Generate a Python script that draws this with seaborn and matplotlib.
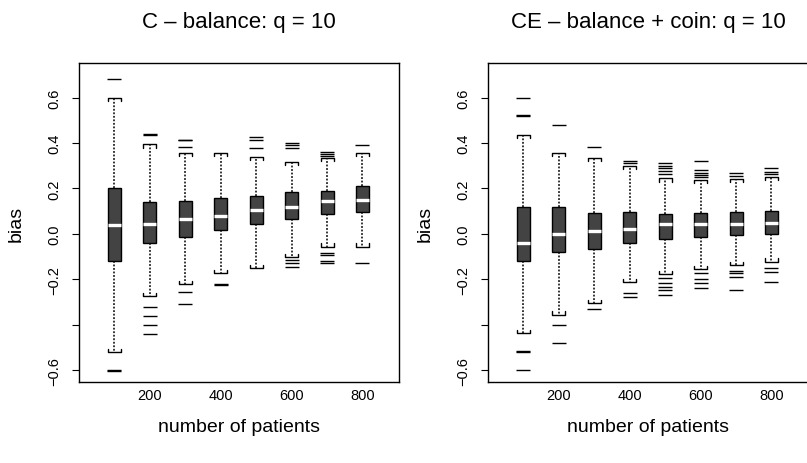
import matplotlib
matplotlib.use("Agg")
import matplotlib.pyplot as plt
import matplotlib.colors as mcolors
import pandas as pd
import seaborn as sns

patients = [100, 200, 300, 400, 500, 600, 700, 800]

# C – balance: q = 10
c_low = [-0.519, -0.274, -0.221, -0.174, -0.152, -0.101, -0.056, -0.056]
c_q1 = [-0.120, -0.040, -0.014, 0.018, 0.042, 0.065, 0.086, 0.098]
c_med = [0.039, 0.042, 0.065, 0.080, 0.105, 0.120, 0.145, 0.149]
c_q3 = [0.200, 0.139, 0.146, 0.159, 0.168, 0.186, 0.190, 0.212]
c_high = [0.597, 0.394, 0.355, 0.355, 0.340, 0.318, 0.336, 0.358]
c_out = [
    [0.681, -0.598, -0.602],
    [0.436, 0.440, -0.321, -0.360, -0.402, -0.441],
    [0.411, 0.415, 0.384, -0.255, -0.308],
    [-0.220, -0.224],
    [0.425, 0.411, 0.377],
    [0.399, 0.389, 0.377, -0.115, -0.130, -0.148],
    [0.360, 0.353, 0.344, -0.083, -0.093, -0.118, -0.130],
    [0.389, -0.127],
]

# CE – balance + coin: q = 10
e_low = [-0.438, -0.355, -0.306, -0.214, -0.178, -0.155, -0.137, -0.122]
e_q1 = [-0.120, -0.081, -0.068, -0.042, -0.024, -0.015, -0.005, 0.000]
e_med = [-0.042, 0.000, 0.014, 0.021, 0.042, 0.042, 0.042, 0.049]
e_q3 = [0.120, 0.120, 0.093, 0.098, 0.087, 0.093, 0.095, 0.101]
e_high = [0.435, 0.358, 0.333, 0.300, 0.244, 0.237, 0.241, 0.249]
e_out = [
    [0.600, 0.517, 0.521, -0.517, -0.521, -0.600],
    [0.479, -0.399, -0.479],
    [0.384, -0.331],
    [0.321, 0.311, -0.262, -0.278],
    [0.314, 0.300, 0.289, 0.277, 0.263, -0.196, -0.215, -0.233, -0.248, -0.267],
    [0.321, 0.281, 0.270, 0.259, 0.249, -0.171, -0.200, -0.215, -0.240],
    [0.267, 0.256, -0.162, -0.174, -0.189, -0.248],
    [0.292, 0.274, 0.263, -0.152, -0.167, -0.211],
]

y_ticks = [0.6, 0.4, 0.2, 0.0, -0.2, -0.4, -0.6]
y_tick_labels = ["0.6", "0.4", "0.2", "0.0", "\u22120.2", "", "\u22120.6"]
x_ticks = [200, 400, 600, 800]

sns.set_theme(style="white")
plt.rcParams["font.family"] = ["Liberation Sans", "DejaVu Sans"]
plt.rcParams.update({
    "text.color": "black",
    "axes.labelcolor": "black",
    "xtick.color": "black",
    "ytick.color": "black",
})

BOX_WIDTH = 0.37
BOX_HALF = BOX_WIDTH * 100 / 2
TICK_D = 0.014


def box_frame(low, q1, med, q3, high):
    rows = []
    for i, n in enumerate(patients):
        for v in (low[i], q1[i], med[i], q3[i], high[i]):
            rows.append({"patients": n, "bias": v})
    return pd.DataFrame(rows)


def outlier_frame(out):
    rows = []
    for n, vals in zip(patients, out):
        for v in vals:
            rows.append({"patients": n, "bias": v})
    return pd.DataFrame(rows)


def draw_panel(ax, title, low, q1, med, q3, high, out):
    sns.boxplot(
        data=box_frame(low, q1, med, q3, high), x="patients", y="bias",
        native_scale=True, whis=(0, 100), showfliers=False,
        width=BOX_WIDTH, color="#434343", saturation=1,
        linecolor="black", linewidth=1.0, ax=ax,
        medianprops=dict(color="white", linewidth=2.4),
        whiskerprops=dict(linestyle=(0, (1.2, 1.1)), linewidth=1.1),
        capprops=dict(color="black", linewidth=1.0),
    )
    # turn the staples into small brackets pointing toward the box
    black = mcolors.to_rgba("black")
    for line in ax.lines:
        xs, ys = list(line.get_xdata()), list(line.get_ydata())
        if len(xs) != 2 or ys[0] != ys[1] or xs[0] == xs[1]:
            continue
        if mcolors.to_rgba(line.get_color()) != black:
            continue
        cx = (xs[0] + xs[1]) / 2
        i = min(range(len(patients)), key=lambda k: abs(patients[k] - cx))
        y = ys[0]
        s = 1 if med[i] > y else -1
        x0, x1 = cx - BOX_HALF, cx + BOX_HALF
        line.set_data([x0, x0, x1, x1], [y + s * TICK_D, y, y, y + s * TICK_D])

    sns.scatterplot(
        data=outlier_frame(out), x="patients", y="bias", marker="_",
        s=95, color="black", linewidth=1.0, ax=ax, legend=False, zorder=3,
    )

    ax.set_xlim(0, 903)
    ax.set_ylim(-0.652, 0.752)
    ax.set_xticks(x_ticks)
    ax.set_xticklabels([str(t) for t in x_ticks])
    ax.set_yticks(y_ticks)
    ax.set_yticklabels(y_tick_labels, rotation=90, va="center", ha="center")
    ax.tick_params(axis="x", length=0, pad=4, labelsize=10.5)
    ax.tick_params(axis="y", left=True, length=5, width=0.8, pad=13,
                   labelsize=10.5, color="black")
    for sp in ax.spines.values():
        sp.set_color("black")
        sp.set_linewidth(1.0)
    ax.set_title(title, fontsize=16, pad=26)
    ax.set_xlabel("number of patients", fontsize=14)
    ax.set_ylabel("bias", fontsize=14)
    ax.xaxis.set_label_coords(0.5, -0.112)
    ax.yaxis.set_label_coords(-0.17, 0.5)


fig = plt.figure(figsize=(8.07, 4.64), dpi=100)
ax1 = fig.add_axes([79 / 807, 1 - 383 / 464, 320 / 807, 319 / 464])
ax2 = fig.add_axes([488 / 807, 1 - 383 / 464, 320 / 807, 319 / 464])

draw_panel(ax1, "C \u2013 balance: q = 10", c_low, c_q1, c_med, c_q3, c_high, c_out)
draw_panel(ax2, "CE \u2013 balance + coin: q = 10", e_low, e_q1, e_med, e_q3, e_high, e_out)

fig.savefig("out.png", dpi=100)
